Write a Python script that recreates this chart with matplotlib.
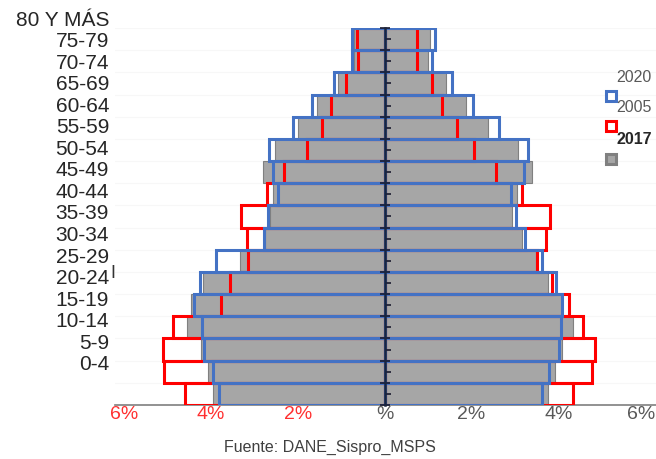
import matplotlib.pyplot as plt
import numpy as np
from matplotlib.lines import Line2D
from matplotlib.transforms import ScaledTranslation, blended_transform_factory

plt.rcParams['font.family'] = ['Liberation Sans', 'DejaVu Sans']

# grupos de edad, de abajo hacia arriba
edades = ['0-4', '5-9', '10-14', '15-19', '20-24', '25-29', '30-34', '35-39', '40-44',
          '45-49', '50-54', '55-59', '60-64', '65-69', '70-74', '75-79', '80 Y MÁS']

# porcentajes (hombres a la izquierda, mujeres a la derecha)
hombres_2005 = [4.58, 5.08, 5.09, 4.86, 3.77, 3.56, 3.15, 3.17, 3.30, 2.71, 2.32, 1.79, 1.44, 1.23, 0.88, 0.62, 0.63]
hombres_2017 = [3.95, 4.07, 4.22, 4.55, 4.45, 4.18, 3.33, 2.74, 2.63, 2.57, 2.79, 2.52, 2.00, 1.56, 1.07, 0.70, 0.70]
hombres_2020 = [3.82, 3.94, 4.16, 4.20, 4.39, 4.24, 3.88, 2.78, 2.68, 2.45, 2.56, 2.65, 2.10, 1.67, 1.16, 0.74, 0.76]

mujeres_2005 = [4.32, 4.76, 4.83, 4.55, 4.23, 3.84, 3.50, 3.70, 3.81, 3.15, 2.55, 2.05, 1.66, 1.31, 1.08, 0.74, 0.74]
mujeres_2017 = [3.75, 3.91, 4.09, 4.32, 4.09, 3.75, 3.47, 3.15, 2.94, 3.05, 3.40, 3.06, 2.38, 1.88, 1.40, 1.00, 1.05]
mujeres_2020 = [3.63, 3.79, 4.02, 4.05, 4.07, 3.93, 3.63, 3.22, 3.01, 2.90, 3.21, 3.29, 2.64, 2.03, 1.54, 1.09, 1.15]

x_ticks = [-6, -4, -2, 0, 2, 4, 6]
x_labels = ['6%', '4%', '2%', '%', '2%', '4%', '6%']

AZUL = '#4472C4'
ROJO = '#FF0000'
GRIS = '#A6A6A6'

fig = plt.figure(figsize=(6.56, 4.59), dpi=100)
W, H = 656, 459
ax = fig.add_axes([115 / W, 54 / H, 541 / W, 377 / H])

y = np.arange(len(edades))

# 2017: barras grises rellenas
ax.barh(y, [-v for v in hombres_2017], height=1.0, color=GRIS, edgecolor='#808080', linewidth=0.8, zorder=2)
ax.barh(y, mujeres_2017, height=1.0, color=GRIS, edgecolor='#808080', linewidth=0.8, zorder=2)
# 2005: contorno rojo
ax.barh(y, [-v for v in hombres_2005], height=1.0, fill=False, edgecolor=ROJO, linewidth=2.2, zorder=3)
ax.barh(y, mujeres_2005, height=1.0, fill=False, edgecolor=ROJO, linewidth=2.2, zorder=3)
# 2020: contorno azul
ax.barh(y, [-v for v in hombres_2020], height=1.0, fill=False, edgecolor=AZUL, linewidth=2.2, zorder=4)
ax.barh(y, mujeres_2020, height=1.0, fill=False, edgecolor=AZUL, linewidth=2.2, zorder=4)

# etiquetas de edad (desplazadas hacia arriba, como en el original)
ax.set_yticks([])
ax.set_yticks(np.arange(-0.5, 17, 1), minor=True)
ax.tick_params(axis='y', which='minor', length=0)
ax.grid(axis='y', which='minor', color='#f7f7f7', linewidth=0.8, zorder=0)
trans = blended_transform_factory(ax.transAxes, ax.transData)
for pos, etiqueta in zip(np.linspace(1.31, 16.86, len(edades)), edades):
    ax.text(-0.011, pos, etiqueta, transform=trans, fontsize=15, color='#262626',
            ha='right', va='center', clip_on=False)

ax.set_xticks(x_ticks)
ax.set_xticklabels(x_labels, fontsize=14)
ax.tick_params(axis='x', length=0, pad=1)
for lbl, t in zip(ax.get_xticklabels(), x_ticks):
    lbl.set_color('#FF3030' if t < 0 else '#595959')
ultimo = ax.get_xticklabels()[-1]
ultimo.set_transform(ultimo.get_transform() + ScaledTranslation(-0.04, 0, fig.dpi_scale_trans))

ax.set_xlim(-6.2, 6.24)
ax.set_ylim(-0.5, 16.5)

for s in ['top', 'right', 'left']:
    ax.spines[s].set_visible(False)
ax.spines['bottom'].set_color('#7f7f7f')
ax.spines['bottom'].set_linewidth(1.2)

# eje central con marcas
centro = ax.secondary_yaxis(6.2 / 12.44)
centro.set_yticks(np.arange(-0.5, 17, 1))
centro.set_yticks(np.arange(0, 17, 1), minor=True)
centro.tick_params(which='major', direction='inout', length=7, width=1.2, color='#1a1a2e', labelleft=False)
centro.tick_params(which='minor', direction='in', length=4, width=1.2, color='#1a1a2e')
centro.spines['left'].set_color('#1a2540')
centro.spines['left'].set_linewidth(1.8)
centro.set_zorder(5)

# leyenda manual
leyenda = [('2020', AZUL, 'white', 'normal', '#595959', 77),
           ('2005', ROJO, 'white', 'normal', '#595959', 107),
           ('2017', '#808080', GRIS, 'bold', '#262626', 140)]
for texto, borde, relleno, peso, ctexto, py in leyenda:
    fig.text(634 / W, 1 - py / H, texto, fontsize=11.5, fontweight=peso, color=ctexto,
             ha='center', va='center')
    fig.add_artist(Line2D([611 / W], [1 - (py + 19) / H], marker='s', markersize=7,
                          markerfacecolor=relleno, markeredgecolor=borde, markeredgewidth=2.2,
                          transform=fig.transFigure))

fig.text(113 / W, 1 - 274 / H, 'I', fontsize=13, color='#333333', ha='center', va='center')
fig.text(330 / W, 1 - 447 / H, 'Fuente: DANE_Sispro_MSPS', fontsize=11.5, color='#404040',
         ha='center', va='center')

fig.savefig('out.png', dpi=100)
